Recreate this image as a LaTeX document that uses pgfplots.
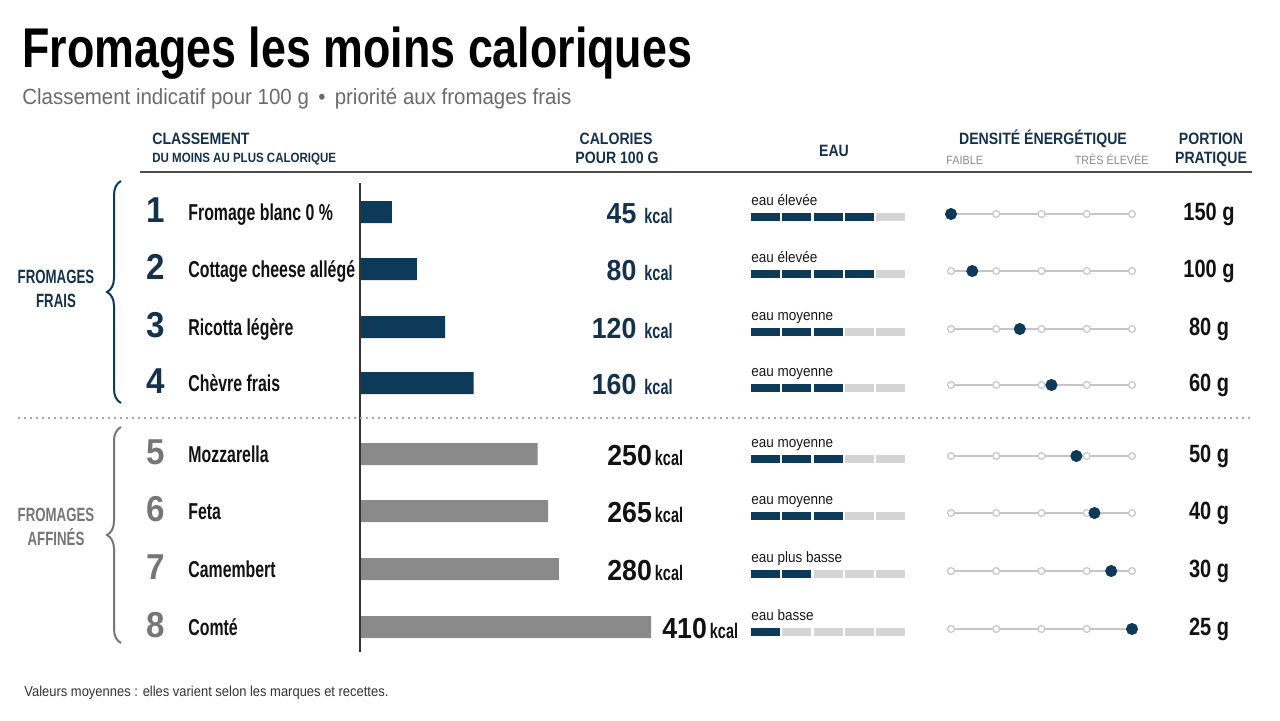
\documentclass[border=0pt]{standalone}
\usepackage{fontspec}
\setmainfont{Liberation Sans}
\newfontfamily\titlefont{Liberation Sans}[FakeStretch=0.80]
\newfontfamily\subfont{Liberation Sans}[FakeStretch=0.93]
\newfontfamily\condfont{Liberation Sans}[FakeStretch=0.69]
\newfontfamily\headfont{Liberation Sans}[FakeStretch=0.86]
\newfontfamily\numfont{Liberation Sans}[FakeStretch=0.92]
\newfontfamily\portfont{Liberation Sans}[FakeStretch=0.80]
\newfontfamily\smallfont{Liberation Sans}[FakeStretch=0.90]
\usepackage{pgfplots}
\usepackage{pgfplotstable}
\pgfplotsset{compat=1.18}
\usetikzlibrary{decorations.pathreplacing}

\definecolor{navy}{HTML}{0E3A5A}
\definecolor{navytext}{HTML}{15324D}
\definecolor{barGray}{HTML}{8A8A8A}
\definecolor{numGray}{HTML}{767676}
\definecolor{lightseg}{HTML}{D4D4D4}
\definecolor{trackgray}{HTML}{C6C6C6}
\definecolor{subgray}{HTML}{6B6B6B}

% one water-level segment
\pgfdeclareplotmark{waterseg}{%
  \pgfpathrectangle{\pgfpoint{-7.25pt}{-2pt}}{\pgfpoint{14.5pt}{4pt}}%
  \pgfusepathqfill}

% rank, row position, kcal per 100 g, water level (0-5), energy density (0-4), portion (g)
\pgfplotstableread{
rank y kcal water dens portion
1 212 45 4 0.00 150
2 269 80 4 0.47 100
3 327 120 3 1.52 80
4 383 160 3 2.22 60
5 454 250 3 2.77 50
6 511 265 3 3.17 40
7 569 280 2 3.54 30
8 627 410 1 4.00 25
}\cheeses

\newcommand\fs[1]{\fontsize{#1}{#1}\selectfont}

\begin{document}
\begin{tikzpicture}
\fill[white] (0pt,0pt) rectangle (640pt,360pt);

% ---------- water level segments ----------
\begin{axis}[at={(0pt,0pt)}, anchor=south west,
  width=640pt, height=360pt, scale only axis,
  xmin=0, xmax=1280, ymin=0, ymax=720, y dir=reverse,
  hide axis, clip=false,
  colormap={seg}{color=(lightseg) color=(navy)}]
\pgfplotsinvokeforeach{1,...,5}{
  \addplot[scatter, only marks, mark=waterseg,
    point meta=explicit, point meta min=0, point meta max=1,
    scatter/use mapped color={draw=none, fill=mapped color}]
    table[x expr={765.5+31.25*(#1-1)}, y expr={\thisrow{y}+5},
          meta expr={\thisrow{water}>=#1}] {\cheeses};
}
\end{axis}

% ---------- calorie bars ----------
\begin{axis}[at={(180pt,0pt)}, anchor=south west,
  width=460pt, height=360pt, scale only axis,
  xmin=0, xmax=1295.77, ymin=0, ymax=720, y dir=reverse,
  hide axis, clip=false]
\addplot[xbar, bar width=11pt, bar shift=0pt, fill=navy, draw=none]
  table[x=kcal, y=y, restrict expr to domain={\thisrow{rank}}{1:4}] {\cheeses};
\addplot[xbar, bar width=11pt, bar shift=0pt, fill=barGray, draw=none]
  table[x=kcal, y=y, restrict expr to domain={\thisrow{rank}}{5:8}] {\cheeses};
\draw[color=black!80, line width=0.8pt] (axis cs:0,183) -- (axis cs:0,652);
\end{axis}

% ---------- energy density scale ----------
\begin{axis}[at={(475.5pt,0pt)}, anchor=south west,
  width=90.5pt, height=360pt, scale only axis,
  xmin=0, xmax=4, ymin=0, ymax=720, y dir=reverse,
  hide axis, clip=false]
\addplot[xcomb, trackgray, line width=0.8pt, mark=none]
  table[x expr=4, y expr={\thisrow{y}+2}] {\cheeses};
\pgfplotsinvokeforeach{0,...,4}{
  \addplot[only marks, mark=*, mark size=1.7pt,
    mark options={draw=trackgray, fill=white, line width=0.6pt}]
    table[x expr=#1, y expr={\thisrow{y}+2}] {\cheeses};
}
\addplot[only marks, mark=*, mark size=2.8pt, color=navy]
  table[x=dens, y expr={\thisrow{y}+2}] {\cheeses};
\end{axis}

% ---------- titles, headers and row texts (1 unit = 1/1280 of the width) ----------
\begin{scope}[x=0.5pt, y=-0.5pt, yshift=360pt, every node/.style={inner sep=0}]
\node[anchor=base west, font=\titlefont\bfseries\fs{28}] at (22,67) {Fromages les moins caloriques};
\node[anchor=base west, text=subgray, font=\subfont\fs{11}] at (22,104) {Classement indicatif pour 100 g \,•\, priorité aux fromages frais};

% column headers
\begin{scope}[every node/.append style={text=navytext, font=\headfont\bfseries\fs{8.2}}]
\node[anchor=base west] at (152,144) {CLASSEMENT};
\node[anchor=base west, font=\headfont\bfseries\fs{6.7}] at (152,162) {DU MOINS AU PLUS CALORIQUE};
\node[anchor=base] at (616,144) {CALORIES};
\node[anchor=base] at (617,163) {POUR 100 G};
\node[anchor=base] at (834,156) {EAU};
\node[anchor=base] at (1043,144) {DENSITÉ ÉNERGÉTIQUE};
\node[anchor=base west, text=barGray, font=\smallfont\fs{6}] at (946,164) {FAIBLE};
\node[anchor=base east, text=barGray, font=\smallfont\fs{6}] at (1149,164) {TRÈS ÉLEVÉE};
\node[anchor=base] at (1211,144) {PORTION};
\node[anchor=base] at (1211,163) {PRATIQUE};
\end{scope}
\draw[color=black!70, line width=0.8pt] (140,172) -- (1252,172);

% group braces
\draw[navy, line width=1pt, decorate, decoration={brace, amplitude=7pt}] (121,403) -- (121,181);
\draw[numGray, line width=1pt, decorate, decoration={brace, amplitude=7pt}] (121,643) -- (121,427);
\node[anchor=base, text=navytext, font=\condfont\bfseries\fs{9.6}] at (56,283) {FROMAGES};
\node[anchor=base, text=navytext, font=\condfont\bfseries\fs{9.6}] at (56,307) {FRAIS};
\node[anchor=base, text=numGray, font=\condfont\bfseries\fs{9.6}] at (56,521) {FROMAGES};
\node[anchor=base, text=numGray, font=\condfont\bfseries\fs{9.6}] at (56,545) {AFFINÉS};
\draw[black!35, line width=0.8pt, dash pattern=on 0.9pt off 2.1pt] (18,418) -- (1252,418);

% ranks and names
\foreach \r/\y/\c/\n in {1/212/navytext/Fromage blanc 0 \%, 2/269/navytext/Cottage cheese allégé,
  3/327/navytext/Ricotta légère, 4/383/navytext/Chèvre frais, 5/454/numGray/Mozzarella,
  6/511/numGray/Feta, 7/569/numGray/Camembert, 8/627/numGray/Comté}{
  \node[anchor=base, text=\c, font=\numfont\bfseries\fs{18}] at (156,\y+10) {\r};
  \node[anchor=base west, text=black!93, font=\condfont\bfseries\fs{11.5}] at (188,\y+8) {\n};
}
% calorie values
\foreach \v/\y in {45/212, 80/269, 120/327, 160/383}{
  \node[anchor=base east, text=navytext] at (673,\y+11)
    {\numfont\bfseries\fs{14.5}\v\hspace{4pt}\condfont\fs{10.5}kcal};
}
\foreach \v/\y/\x in {250/454/607, 265/511/607, 280/569/607, 410/627/662}{
  \node[anchor=base west, text=black!93] at (\x,\y+11)
    {\numfont\bfseries\fs{14.5}\v\hspace{1.5pt}\condfont\fs{10.5}kcal};
}
% water labels
\foreach \t/\y in {eau élevée/212, eau élevée/269, eau moyenne/327, eau moyenne/383,
  eau moyenne/454, eau moyenne/511, eau plus basse/569, eau basse/627}{
  \node[anchor=base west, text=black!90, font=\smallfont\fs{7.5}] at (751,\y-7) {\t};
}
% portions
\foreach \p/\y in {150/212, 100/269, 80/327, 60/383, 50/454, 40/511, 30/569, 25/627}{
  \node[anchor=base, text=black!93, font=\portfont\bfseries\fs{12.5}] at (1209,\y+8) {\p\ g};
}
\node[anchor=base west, text=black!80, font=\smallfont\fs{7.2}] at (24,696)
  {Valeurs moyennes : elles varient selon les marques et recettes.};
\end{scope}
\end{tikzpicture}
\end{document}
